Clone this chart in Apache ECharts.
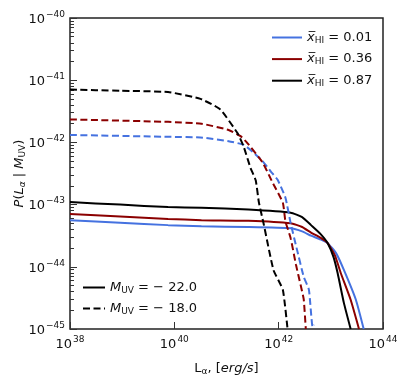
<!DOCTYPE html>
<html>
<head>
<meta charset="utf-8">
<script src="https://cdn.jsdelivr.net/npm/echarts@6/dist/echarts.min.js"></script>
<style>
  html, body { margin: 0; padding: 0; background: #fff; }
  #chart { width: 407px; height: 386px; }
</style>
</head>
<body>
<div id="chart"></div>
<script>
// values, stored as log10(L) and log10(P)
const blueSolidX = [38, 38.96, 39.88, 40.52, 41.42, 42.23, 42.45, 42.62, 42.8, 42.94, 43.1, 43.25, 43.48, 43.63]
const blueSolidY = [-43.25, -43.29, -43.33, -43.35, -43.36, -43.38, -43.43, -43.5, -43.56, -43.62, -43.78, -44.05, -44.53, -45.0]
const redSolidX = [38, 38.96, 39.88, 40.52, 41.42, 42.23, 42.45, 42.62, 42.8, 42.94, 43.08, 43.19, 43.38, 43.54]
const redSolidY = [-43.15, -43.19, -43.23, -43.25, -43.26, -43.3, -43.36, -43.45, -43.53, -43.62, -43.82, -44.1, -44.53, -45.0]
const blackSolidX = [38, 38.96, 39.88, 40.52, 41.42, 42.23, 42.45, 42.62, 42.8, 42.94, 43.05, 43.13, 43.25, 43.38]
const blackSolidY = [-42.96, -43.0, -43.04, -43.05, -43.08, -43.13, -43.2, -43.33, -43.47, -43.62, -43.84, -44.1, -44.58, -45.0]

const blueDashX = [38, 39.88, 40.5, 41.04, 41.33, 41.5, 41.69, 41.85, 41.98, 42.13, 42.23, 42.35, 42.48, 42.58, 42.65, 42.68]
const blueDashY = [-41.88, -41.91, -41.92, -41.98, -42.04, -42.15, -42.3, -42.47, -42.6, -42.89, -43.3, -43.72, -44.16, -44.37, -44.97, -44.93]
const redDashX = [38, 39.88, 40.52, 41.04, 41.27, 41.4, 41.69, 41.88, 42.08, 42.13, 42.23, 42.33, 42.42, 42.48, 42.52]
const redDashY = [-41.63, -41.67, -41.7, -41.8, -41.9, -42.01, -42.32, -42.64, -42.97, -43.27, -43.54, -43.96, -44.29, -44.52, -45.0]
const blackDashX = [38, 38.96, 39.88, 40.5, 40.88, 41.21, 41.33, 41.46, 41.56, 41.62, 41.71, 41.9, 42.08, 42.17]
const blackDashY = [-41.15, -41.17, -41.19, -41.3, -41.47, -41.85, -42.07, -42.41, -42.61, -42.96, -43.3, -44.05, -44.37, -45.0]

const xhiNames = ['0.01', '0.36', '0.87']
const muvNames = ['22.0', '18.0']
// decade exponents bounding the axes
const xRange = [38, 44]
const yRange = [-45, -40]

const blue = '#4572e0'
const red = '#8b0000'
const black = '#000000'

const toPairs = (xs, ys) => xs.map((x, i) => [x, ys[i]])

// minor ticks 2..9 per decade on the y axis (in log10 units)
const yMinor = []
for (let e = yRange[0]; e < yRange[1]; e++) {
  for (let k = 2; k <= 9; k++) yMinor.push(e + Math.log10(k))
}

const supLabel = (v) => {
  const e = Math.round(v)
  return '{b|10}{s|' + (e < 0 ? '\u2212' : '') + Math.abs(e) + '}'
}

const labelRich = {
  b: { fontSize: 13, color: '#111', fontFamily: 'DejaVu Sans', verticalAlign: 'bottom', lineHeight: 16 },
  s: { fontSize: 9, color: '#111', fontFamily: 'DejaVu Sans', verticalAlign: 'top', lineHeight: 9, padding: [0, 0, 0, 1] }
}

const lineSeries = (name, xs, ys, color, dashed) => ({
  name: name,
  type: 'line',
  data: toPairs(xs, ys),
  showSymbol: false,
  symbol: 'none',
  smooth: 0.15,
  lineStyle: { color: color, width: 2, type: dashed ? [7, 3.5] : 'solid' },
  itemStyle: { color: color },
  z: 3
})

const chart = echarts.init(document.getElementById('chart'))

const option = {
  animation: false,
  backgroundColor: '#fff',
  grid: {
    left: 70, top: 18, right: 24, bottom: 57,
    outerBoundsMode: 'none',
    show: true, borderColor: '#222', borderWidth: 1.5, backgroundColor: 'transparent'
  },
  xAxis: {
    type: 'value',
    min: xRange[0],
    max: xRange[1],
    interval: 2,
    axisLine: { show: false },
    axisTick: { show: true, inside: true, length: 7, lineStyle: { color: '#333', width: 1 } },
    splitLine: { show: false },
    axisLabel: { margin: 6, formatter: supLabel, rich: labelRich },
    name: '{t|L}{sub|\u03b1}{t|, [}{i|erg/s}{t|]}',
    nameLocation: 'middle',
    nameGap: 32,
    nameMoveOverlap: false,
    nameTextStyle: {
      rich: {
        t: { fontSize: 13, color: '#111', fontFamily: 'DejaVu Sans' },
        i: { fontSize: 13, color: '#111', fontFamily: 'DejaVu Sans', fontStyle: 'italic' },
        sub: { fontSize: 9, color: '#111', fontFamily: 'DejaVu Sans', padding: [6, 0, 0, 0] }
      }
    }
  },
  yAxis: [
    {
      type: 'value',
      min: yRange[0],
      max: yRange[1],
      interval: 1,
      axisLine: { show: false },
      axisTick: { show: true, inside: true, length: 7, lineStyle: { color: '#333', width: 1 } },
      splitLine: { show: false },
      axisLabel: { margin: 5, formatter: supLabel, rich: labelRich },
      name: '{i|P}{t|(}{i|L}{isub|\u03b1}{t| | }{i|M}{sub|UV}{t|)}',
      nameLocation: 'middle',
      nameGap: 43,
      nameMoveOverlap: false,
      nameRotate: 90,
      nameTextStyle: {
        rich: {
          t: { fontSize: 13, color: '#111', fontFamily: 'DejaVu Sans' },
          i: { fontSize: 13, color: '#111', fontFamily: 'DejaVu Sans', fontStyle: 'italic' },
          isub: { fontSize: 9, color: '#111', fontFamily: 'DejaVu Sans', fontStyle: 'italic', padding: [6, 0, 0, 0] },
          sub: { fontSize: 9, color: '#111', fontFamily: 'DejaVu Sans', padding: [6, 0, 0, 0] }
        }
      }
    },
    {
      type: 'value',
      min: yRange[0],
      max: yRange[1],
      position: 'left',
      axisLine: { show: false },
      axisTick: { show: true, inside: true, length: 4, customValues: yMinor, lineStyle: { color: '#333', width: 1 } },
      axisLabel: { show: false },
      splitLine: { show: false }
    }
  ],
  legend: [
    {
      orient: 'vertical',
      left: 266,
      top: 26,
      itemWidth: 30,
      itemHeight: 14,
      itemGap: 7.6,
      itemStyle: { opacity: 0 },
      data: xhiNames.map(n => 'x' + n),
      formatter: (name) => '{x|x\u0305}{sub|HI}{t| = ' + name.slice(1) + '}',
      textStyle: {
        rich: {
          x: { fontSize: 13, color: '#111', fontFamily: 'DejaVu Sans', fontStyle: 'italic' },
          sub: { fontSize: 9, color: '#111', fontFamily: 'DejaVu Sans', padding: [6, 0, 0, 0] },
          t: { fontSize: 13, color: '#111', fontFamily: 'DejaVu Sans' }
        }
      }
    },
    {
      orient: 'vertical',
      left: 77,
      top: 276,
      itemWidth: 22,
      itemHeight: 14,
      itemGap: 7,
      itemStyle: { opacity: 0 },
      data: muvNames.map(n => 'M' + n),
      formatter: (name) => '{m|M}{sub|UV}{t| = \u2212 ' + name.slice(1) + '}',
      textStyle: {
        rich: {
          m: { fontSize: 13, color: '#111', fontFamily: 'DejaVu Sans', fontStyle: 'italic' },
          sub: { fontSize: 9, color: '#111', fontFamily: 'DejaVu Sans', padding: [6, 0, 0, 0] },
          t: { fontSize: 13, color: '#111', fontFamily: 'DejaVu Sans' }
        }
      }
    }
  ],
  series: [
    lineSeries('x' + xhiNames[0], blueSolidX, blueSolidY, blue, false),
    lineSeries('x' + xhiNames[1], redSolidX, redSolidY, red, false),
    lineSeries('x' + xhiNames[2], blackSolidX, blackSolidY, black, false),
    lineSeries('d' + xhiNames[0], blueDashX, blueDashY, blue, true),
    lineSeries('d' + xhiNames[1], redDashX, redDashY, red, true),
    lineSeries('d' + xhiNames[2], blackDashX, blackDashY, black, true),
    // legend-only entries for the two magnitudes
    { name: 'M' + muvNames[0], type: 'line', data: [], symbol: 'none', lineStyle: { color: black, width: 2 }, itemStyle: { color: black } },
    { name: 'M' + muvNames[1], type: 'line', data: [], symbol: 'none', lineStyle: { color: black, width: 2, type: [7, 3.5] }, itemStyle: { color: black } }
  ]
}

chart.setOption(option)
</script>
</body>
</html>
